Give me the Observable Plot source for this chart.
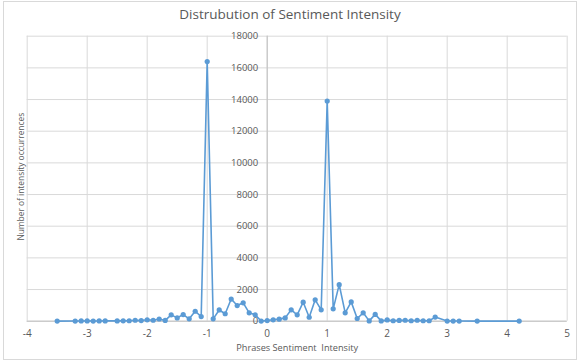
<!DOCTYPE html>
<html><head><meta charset="utf-8">
<script src="https://cdn.jsdelivr.net/npm/d3@7"></script>
<script src="https://cdn.jsdelivr.net/npm/@observablehq/plot@0.6"></script>
<style>
body{margin:0;background:#fff;}
#wrap{position:relative;width:580px;height:362px;overflow:hidden;font-family:"Open Sans",sans-serif;background:#fff;}
#title{position:absolute;left:0;top:5px;width:580px;text-align:center;font-size:13.5px;color:#595959;}
#border{position:absolute;left:3px;top:1px;width:572px;height:357px;border:1px solid #d9d9d9;}
#chart{position:absolute;left:0;top:0;}
svg text{white-space:pre;}
</style></head><body>
<div id="wrap"><div id="border"></div><div id="chart"></div><div id="title">Distrubution of Sentiment Intensity</div></div>
<script>
const intensity = [-3.5,-3.2,-3.1,-3.0,-2.9,-2.8,-2.7,-2.5,-2.4,-2.3,-2.2,-2.1,-2.0,-1.9,-1.8,-1.7,-1.6,-1.5,-1.4,-1.3,-1.2,-1.1,-1.0,-0.9,-0.8,-0.7,-0.6,-0.5,-0.4,-0.3,-0.2,-0.1,0,0.1,0.2,0.3,0.4,0.5,0.6,0.7,0.8,0.9,1.0,1.1,1.2,1.3,1.4,1.5,1.6,1.7,1.8,1.9,2.0,2.1,2.2,2.3,2.4,2.5,2.6,2.7,2.8,3.0,3.1,3.2,3.5,4.2];
const occurrences = [5,10,15,20,10,15,20,20,25,30,60,40,90,60,140,50,400,210,420,150,630,290,16400,150,710,470,1400,990,1160,530,400,10,40,90,130,210,720,400,1200,250,1350,720,13900,780,2310,530,1220,170,530,20,430,20,80,30,50,60,30,60,30,30,260,10,10,10,5,5];
const xTicks = [-4,-3,-2,-1,0,1,2,3,4,5];
const yTicks = [0,2000,4000,6000,8000,10000,12000,14000,16000,18000];
const xLabel = "Phrases Sentiment  Intensity";
const yLabel = "Number of intensity occurrences";

const data = intensity.map((x, i) => ({x, y: occurrences[i]}));
const blue = "#5B9BD5", grid = "#d9d9d9", txt = "#595959";

const chart = Plot.plot({
  width: 580, height: 362,
  marginTop: 35.7, marginBottom: 41.3, marginLeft: 26.7, marginRight: 13.3,
  style: {fontFamily: "'Open Sans', sans-serif", background: "transparent"},
  x: {domain: [-4, 5], axis: null},
  y: {domain: [0, 18000], axis: null},
  marks: [
    Plot.gridY(yTicks, {stroke: grid, strokeOpacity: 1}),
    Plot.gridX(xTicks, {stroke: grid, strokeOpacity: 1}),
    Plot.ruleY([0], {stroke: "#bfbfbf"}),
    Plot.ruleX([0], {stroke: "#bfbfbf"}),
    Plot.axisX(xTicks, {tickSize: 0, tickPadding: 9, tickFormat: d => String(d), fontSize: 10, fill: txt, label: null}),
    Plot.text(yTicks, {x: () => 0, y: d => d, text: d => String(d), textAnchor: "end", dx: -9, fontSize: 9.5, fill: txt}),
    Plot.line(data, {x: "x", y: "y", stroke: blue, strokeWidth: 1.6}),
    Plot.dot(data, {x: "x", y: "y", r: 2.6, fill: blue, stroke: "none"}),
    Plot.text([xLabel], {frameAnchor: "bottom", dy: 30, fontSize: 9.2, fill: txt}),
    Plot.text([yLabel], {frameAnchor: "left", textAnchor: "middle", rotate: -90, dx: -6, dy: -2, fontSize: 8.4, fill: txt})
  ]
});
document.getElementById("chart").append(chart);
</script>
</body></html>
